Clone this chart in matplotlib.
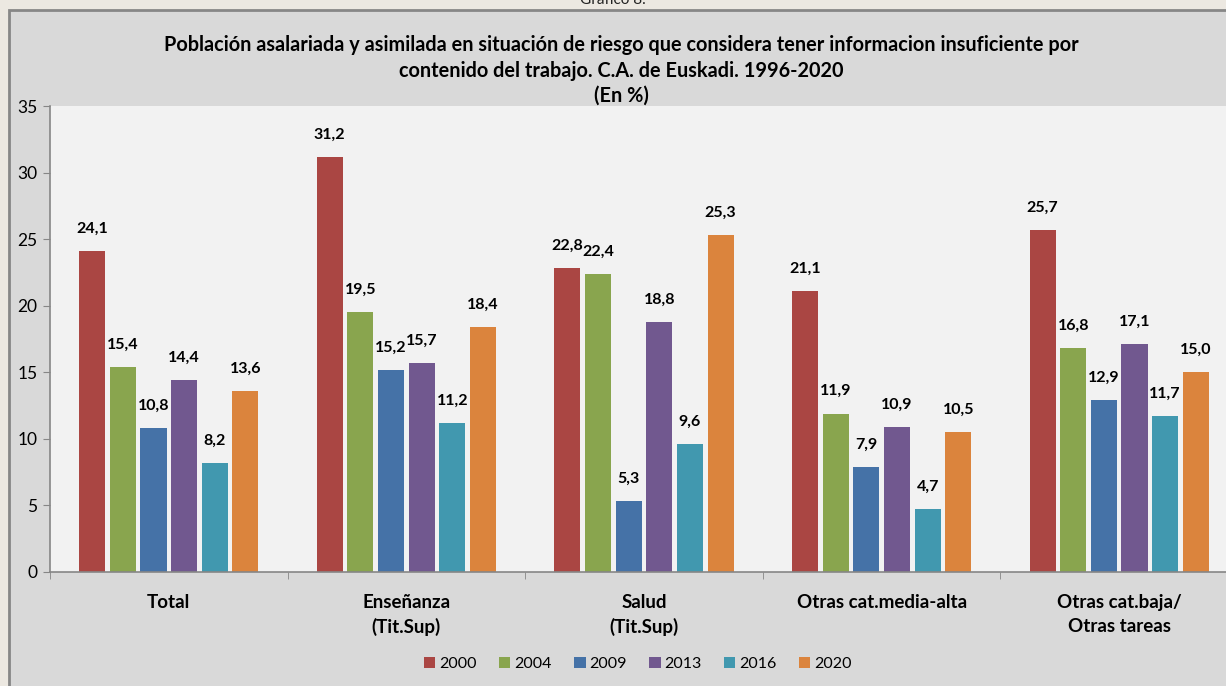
import matplotlib.pyplot as plt
import matplotlib.patches as mpatches
import numpy as np

categories = ["Total", "Enseñanza\n(Tit.Sup)", "Salud\n(Tit.Sup)", "Otras cat.media-alta", "Otras cat.baja/\nOtras tareas"]
years = ["2000", "2004", "2009", "2013", "2016", "2020"]
values = {
    "2000": [24.1, 31.2, 22.8, 21.1, 25.7],
    "2004": [15.4, 19.5, 22.4, 11.9, 16.8],
    "2009": [10.8, 15.2, 5.3, 7.9, 12.9],
    "2013": [14.4, 15.7, 18.8, 10.9, 17.1],
    "2016": [8.2, 11.2, 9.6, 4.7, 11.7],
    "2020": [13.6, 18.4, 25.3, 10.5, 15.0],
}
colors = ["#AA4643", "#89A54E", "#4572A7", "#71588F", "#4198AF", "#DB843D"]

W, H = 1226, 686
fig = plt.figure(figsize=(W / 100, H / 100), dpi=100)
fig.patch.set_facecolor("#ece8e1")

# gray chart frame (only top and left borders visible)
fig.patches.append(mpatches.Rectangle((9 / W, -0.02), 1, (H - 10) / H + 0.02, transform=fig.transFigure,
                                      facecolor="#d9d9d9", edgecolor="#878787", linewidth=2, zorder=-10))
fig.text(0.5, 1.0, "Gráfico 8.", ha="center", va="center", fontsize=11, family="Lato", color="#222222")

title_font = "Lato"
tsize = 14.3
tx = 621 / W
fig.text(tx, 1 - 45 / H, "Población asalariada y asimilada en situación de riesgo que considera tener informacion insuficiente por",
         ha="center", va="center", fontsize=tsize, fontweight="bold", family=title_font)
fig.text(tx, 1 - 71 / H, "contenido del trabajo. C.A. de Euskadi. 1996-2020",
         ha="center", va="center", fontsize=tsize, fontweight="bold", family=title_font)
fig.text(tx, 1 - 96 / H, "(En %)", ha="center", va="center", fontsize=tsize, fontweight="bold", family=title_font)

group_w = 237.6
ax = fig.add_axes([50 / W, (H - 572) / H, group_w * 5 / W, (572 - 106) / H])
ax.set_facecolor("#f2f2f2")

x = np.arange(len(categories))
step = 0.129
bw = 0.11
for i, (yr, c) in enumerate(zip(years, colors)):
    pos = x + (i - 2.5) * step
    bars = ax.bar(pos, values[yr], width=bw, color=c, label=yr, zorder=2)
    for p, v in zip(pos, values[yr]):
        ax.annotate(f"{v:.1f}".replace(".", ","), (p, v), xytext=(0, 11), textcoords="offset points",
                    ha="center", va="bottom", fontsize=11.5, fontweight="bold", family="Lato")

ax.set_xlim(-0.5, len(categories) - 0.5)
ax.set_ylim(0, 35)
ax.set_yticks(range(0, 36, 5))
ax.set_xticks(np.arange(len(categories) + 1) - 0.5, minor=True)
ax.set_xticks(x)
ax.set_xticklabels(categories, fontsize=13.5, fontweight="bold", family="Lato", linespacing=1.45)
ax.tick_params(axis="x", which="major", length=0, pad=16)
ax.tick_params(axis="x", which="minor", length=5, color="#868686")
ax.tick_params(axis="y", length=5, color="#868686", labelsize=12.5, pad=4)
for lab in ax.get_yticklabels():
    lab.set_family("Lato")
for s in ["top", "right"]:
    ax.spines[s].set_visible(False)
for s in ["left", "bottom"]:
    ax.spines[s].set_color("#868686")
    ax.spines[s].set_linewidth(1.2)

leg = fig.legend(loc="center", bbox_to_anchor=(638 / W, 1 - 664 / H), ncol=6, frameon=False,
                 handlelength=0.7, handleheight=0.7, handletextpad=0.25, columnspacing=1.4,
                 prop={"family": "Lato", "size": 11.5})

fig.savefig("out.png", dpi=100, facecolor=fig.get_facecolor())
